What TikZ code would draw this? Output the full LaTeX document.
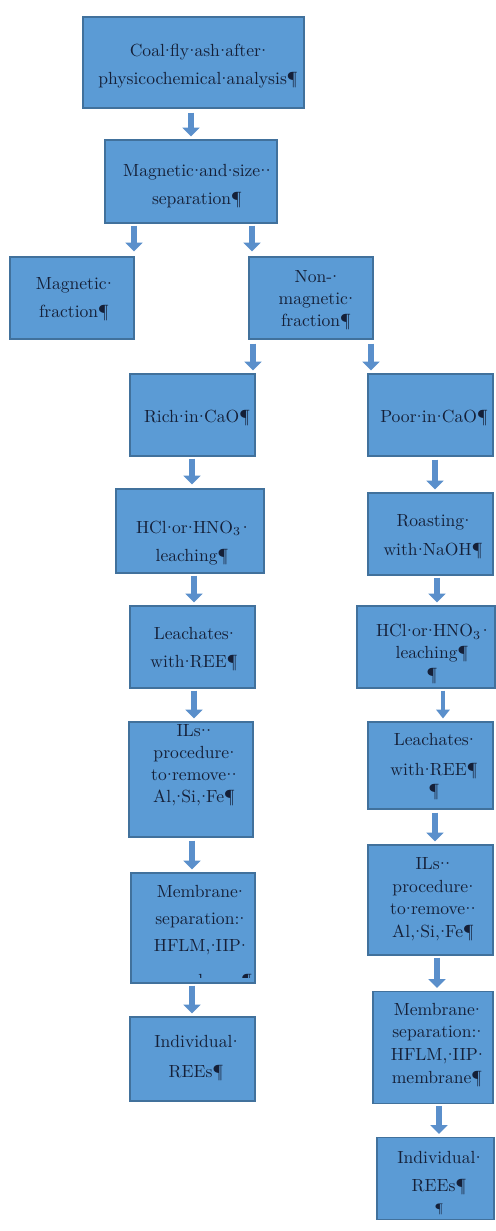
\documentclass[tikz,border=0pt]{standalone}
\usepackage{fontspec}
\usetikzlibrary{arrows.meta,calc}
\definecolor{boxfill}{HTML}{5B9BD5}
\definecolor{boxline}{HTML}{41719C}
\definecolor{txtcol}{HTML}{152038}
\definecolor{arrcol}{HTML}{5A8FCB}
\tikzset{
  box/.style={draw=boxline, fill=boxfill, line width=0.6pt, inner sep=0pt},
  wh/.style 2 args={minimum width=#1*0.02cm, minimum height=#2*0.02cm},
  lbl/.style={inner sep=0pt, align=center, text=txtcol, font=\fontsize{10}{#1}\selectfont},
  lbl/.default=12.5pt,
  flowarrow/.style={draw=arrcol, line width=3.6pt, -{Triangle[width=9.5pt,length=5pt]}},
  thinarrow/.style={draw=arrcol, line width=2.2pt, -{Triangle[width=7.5pt,length=5pt]}},
}
\newcommand{\dt}{\hbox to 3pt{\hss·\hss}}
\newcommand{\sub}[1]{\textsubscript{#1}\kern1pt}
\newcommand{\smallpil}{{\fontsize{7}{7}\selectfont ¶}}
\begin{document}
\begin{tikzpicture}[x=0.02cm,y=-0.02cm]
\useasboundingbox[fill=white] (0,0) rectangle (495,1231);
% boxes
\node[box, wh={221}{91}] (b1) at (193.5,62.5) {};
\node[box, wh={172}{83}] (b2) at (191,181.5) {};
\node[box, wh={124}{82}] (mag) at (72,298) {};
\node[box, wh={124}{82}] (nonmag) at (311,298) {};
\node[box, wh={125}{82}] (rich) at (192.5,415) {};
\node[box, wh={125}{82}] (poor) at (430.5,415) {};
\node[box, wh={148}{84}] (hclL) at (190,531) {};
\node[box, wh={125}{82}] (roast) at (430.5,534) {};
\node[box, wh={125}{82}] (leachL) at (192.5,647) {};
\node[box, wh={138}{82}] (hclR) at (426,647) {};
\node[box, wh={124}{115}] (ilsL) at (191,779.5) {};
\node[box, wh={125}{87}] (leachR) at (430.5,765.5) {};
\node[box, wh={124}{110}] (memL) at (193,928) {};
\node[box, wh={125}{110}] (ilsR) at (430.5,900) {};
\node[box, wh={125}{84}] (indL) at (192.5,1059) {};
\node[box, wh={120}{112}] (memR) at (433,1047.5) {};
\node[box, wh={117}{82}] (indR) at (435.5,1178.5) {};
% texts
\node[lbl=16pt] (b1t) at (198,66) {Coal\dt fly\dt ash\dt after\dt\\physicochemical\dt analysis¶};
\node[lbl=16pt] (b2t) at (197,186) {Magnetic\dt and\dt size\dt\dt\\separation¶};
\node[lbl=16pt] (magt) at (74,299) {Magnetic\dt\\fraction¶};
\node[lbl=12.5pt] (nonmagt) at (316,300) {Non-\dt\\magnetic\dt\\fraction¶};
\node[lbl] (richt) at (197,418) {Rich\dt in\dt CaO¶};
\node[lbl] (poort) at (434,418) {Poor\dt in\dt CaO¶};
\node[lbl=16pt] (hclLt) at (192,543) {HCl\dt or\dt HNO\sub{3}\dt\\leaching¶};
\node[lbl=16.5pt] (roastt) at (433,537) {Roasting\dt\\with\dt NaOH¶};
\node[lbl=16pt] (leachLt) at (194,649) {Leachates\dt\\with\dt REE¶};
\node[lbl=12.5pt] (hclRt) at (432,654) {HCl\dt or\dt HNO\sub{3}\dt\\leaching¶\\¶};
\node[lbl=12.5pt] (ilsLt) at (194,765) {ILs\dt\dt\\procedure\dt\\to\dt remove\dt\dt\\Al,\dt Si,\dt Fe¶};
\node[lbl=17pt] (leachRt) at (434,767) {Leachates\dt\\with\dt REE¶\\[-5pt]¶};
\begin{scope}
  \clip (memL.north west) rectangle (255,977);
  \node[lbl=15.4pt] (memLt) at (200,920) {Membrane\dt\\separation:\dt\\HFLM,\dt IIP\dt};
  \node[lbl, anchor=base] (memLx) at (207,986) {membrane¶};
\end{scope}
\node[lbl=12.8pt] (ilsRt) at (433,899) {ILs\dt\dt\\procedure\dt\\to\dt remove\dt\dt\\Al,\dt Si,\dt Fe¶};
\node[lbl=17pt] (indLt) at (196,1058) {Individual\dt\\REEs¶};
\node[lbl=13pt] (memRt) at (437,1045) {Membrane\dt\\separation:\dt\\HFLM,\dt IIP\dt\\membrane¶};
\node[lbl=16pt] (indRt) at (439,1183) {Individual\dt\\REEs¶\\[-4pt]\smallpil};
% arrows
\draw[flowarrow] ($(b1.south -| 191,0)+(0,4)$) -- ($(b2.north -| 191,0)+(0,-3)$);
\draw[flowarrow] ($(b2.south -| 134,0)+(0,2)$) -- ($(mag.north -| 134,0)+(0,-5)$);
\draw[flowarrow] ($(b2.south -| 252,0)+(0,2)$) -- ($(nonmag.north -| 252,0)+(0,-5)$);
\draw[flowarrow] ($(nonmag.south -| 253,0)+(0,4)$) -- ($(rich.north -| 253,0)+(0,-3)$);
\draw[flowarrow] ($(nonmag.south -| 371,0)+(0,4)$) -- ($(poor.north -| 371,0)+(0,-3)$);
\draw[flowarrow] ($(rich.south -| 192,0)+(0,2)$) -- ($(hclL.north -| 192,0)+(0,-4)$);
\draw[flowarrow] ($(poor.south -| 435,0)+(0,3)$) -- ($(roast.north -| 435,0)+(0,-3)$);
\draw[flowarrow] ($(hclL.south -| 194,0)+(0,2)$) -- ($(leachL.north -| 194,0)+(0,-3)$);
\draw[flowarrow] ($(roast.south -| 437,0)+(0,2)$) -- ($(hclR.north -| 437,0)+(0,-3)$);
\draw[flowarrow] ($(leachL.south -| 194,0)+(0,2)$) -- ($(ilsL.north -| 194,0)+(0,-3)$);
\draw[thinarrow] ($(hclR.south -| 443,0)+(0,2)$) -- ($(leachR.north -| 443,0)+(0,-3)$);
\draw[flowarrow] ($(ilsL.south -| 192,0)+(0,3)$) -- ($(memL.north -| 192,0)+(0,-3)$);
\draw[flowarrow] ($(leachR.south -| 435,0)+(0,3)$) -- ($(ilsR.north -| 435,0)+(0,-3)$);
\draw[flowarrow] ($(memL.south -| 192,0)+(0,2)$) -- ($(indL.north -| 192,0)+(0,-3)$);
\draw[flowarrow] ($(ilsR.south -| 437,0)+(0,2)$) -- ($(memR.north -| 437,0)+(0,-3)$);
\draw[flowarrow] ($(memR.south -| 439,0)+(0,2)$) -- ($(indR.north -| 439,0)+(0,-3)$);
\end{tikzpicture}
\end{document}
